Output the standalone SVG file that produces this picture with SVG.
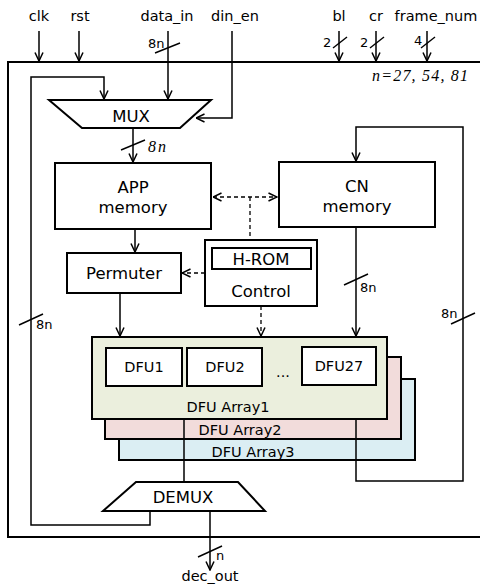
<svg xmlns="http://www.w3.org/2000/svg" width="480" height="585" viewBox="0 0 480 585">
<style>
text{font-family:"DejaVu Sans","Noto Sans",sans-serif;fill:#000}
.lbl{font-size:14.5px}
.blk{font-size:16.5px;text-anchor:middle}
.dfu{font-size:14.5px;text-anchor:middle}
.sm{font-size:13px}
.it{font-family:"Liberation Serif",serif;font-style:italic;font-size:16px}
.box{fill:#fff;stroke:#000;stroke-width:2}
.ln{fill:none;stroke:#000;stroke-width:1.5}
.dash{fill:none;stroke:#000;stroke-width:1.3;stroke-dasharray:4,3}
.sl{stroke:#000;stroke-width:1.4}
</style>
<defs>
<marker id="arr" viewBox="0 0 10 10" refX="9.5" refY="5" markerWidth="10" markerHeight="10" markerUnits="userSpaceOnUse" orient="auto-start-reverse">
<path d="M1,1 L9.5,5 L1,9" fill="none" stroke="#000" stroke-width="1.5"/>
</marker>
</defs>

<g id="outer">
<path d="M480,62 H8 V537 H480" fill="none" stroke="#000" stroke-width="2"/>
<text x="372" y="81" class="it" font-size="17" textLength="96" lengthAdjust="spacing">n=27, 54, 81</text>
</g>

<g id="inputs">
<text x="39" y="21" class="lbl" text-anchor="middle">clk</text>
<text x="80" y="21" class="lbl" text-anchor="middle">rst</text>
<text x="167" y="21" class="lbl" text-anchor="middle">data_in</text>
<text x="235" y="21" class="lbl" text-anchor="middle">din_en</text>
<text x="339" y="21" class="lbl" text-anchor="middle">bl</text>
<text x="376" y="21" class="lbl" text-anchor="middle">cr</text>
<text x="436" y="21" class="lbl" text-anchor="middle">frame_num</text>
</g>

<g id="connectors">
<line x1="39" y1="31" x2="39" y2="61" class="ln" marker-end="url(#arr)"/>
<line x1="79" y1="31" x2="79" y2="61" class="ln" marker-end="url(#arr)"/>
<line x1="168" y1="31" x2="168" y2="99" class="ln" marker-end="url(#arr)"/>
<line x1="155" y1="53" x2="180" y2="43" class="sl"/>
<text x="148" y="48" class="sm">8n</text>
<path d="M232,31 V118 H196" class="ln" marker-end="url(#arr)"/>
<line x1="339" y1="31" x2="339" y2="61" class="ln" marker-end="url(#arr)"/>
<line x1="333" y1="48" x2="347" y2="37" class="sl"/>
<text x="323" y="47" class="sm">2</text>
<line x1="376" y1="31" x2="376" y2="61" class="ln" marker-end="url(#arr)"/>
<line x1="370" y1="48" x2="384" y2="37" class="sl"/>
<text x="360" y="47" class="sm">2</text>
<line x1="427" y1="31" x2="427" y2="61" class="ln" marker-end="url(#arr)"/>
<line x1="421" y1="48" x2="435" y2="37" class="sl"/>
<text x="414" y="45" class="sm">4</text>

<path d="M150,511 V525 H31 V77 H104 V99" class="ln" marker-end="url(#arr)"/>
<line x1="19" y1="325" x2="43" y2="314" class="sl"/>
<text x="36" y="329" class="sm">8n</text>

<line x1="133" y1="128" x2="133" y2="162" class="ln" marker-end="url(#arr)"/>
<line x1="121" y1="150" x2="145" y2="140" class="sl"/>
<text x="148" y="152" class="it">8<tspan dx="2">n</tspan></text>

<line x1="135" y1="229" x2="135" y2="252" class="ln" marker-end="url(#arr)"/>
<line x1="120" y1="293" x2="120" y2="336" class="ln" marker-end="url(#arr)"/>

<line x1="213" y1="197" x2="277" y2="197" class="dash" marker-start="url(#arr)" marker-end="url(#arr)"/>
<line x1="250" y1="197" x2="250" y2="240" class="dash"/>
<line x1="205" y1="273" x2="182" y2="273" class="dash" marker-end="url(#arr)"/>
<line x1="261" y1="306" x2="261" y2="336" class="dash" marker-end="url(#arr)"/>

<line x1="356" y1="227" x2="356" y2="336" class="ln" marker-end="url(#arr)"/>
<line x1="344" y1="285" x2="368" y2="274" class="sl"/>
<text x="360" y="292" class="sm">8n</text>

<line x1="210" y1="511" x2="210" y2="570" class="ln" marker-end="url(#arr)"/>
<line x1="198" y1="557" x2="222" y2="546" class="sl"/>
<text x="216" y="560" class="sm">n</text>
<text x="210" y="581" class="lbl" text-anchor="middle">dec_out</text>
</g>

<g id="mux">
<path d="M49,100 H211 L180,128 H82 Z" class="box"/>
<text x="131" y="122" class="blk" font-size="17">MUX</text>
</g>

<g id="app-memory">
<rect x="55" y="163" width="156" height="66" class="box"/>
<text x="133" y="193" class="blk">APP</text>
<text x="133" y="213" class="blk">memory</text>
</g>

<g id="cn-memory">
<rect x="279" y="162" width="156" height="65" class="box"/>
<text x="357" y="192" class="blk">CN</text>
<text x="357" y="212" class="blk">memory</text>
</g>

<g id="permuter">
<rect x="67" y="253" width="114" height="40" class="box"/>
<text x="124" y="279" class="blk">Permuter</text>
</g>

<g id="control">
<rect x="205" y="240" width="112" height="66" class="box"/>
<rect x="212" y="248" width="99" height="21" class="box"/>
<text x="261" y="265" class="blk">H-ROM</text>
<text x="261" y="297" class="blk">Control</text>
</g>

<g id="dfu-array3">
<rect x="119" y="379" width="296" height="81" fill="#dbeef3" stroke="#000" stroke-width="2"/>
<text x="253" y="457" class="dfu">DFU Array3</text>
</g>
<g id="dfu-array2">
<rect x="105" y="357" width="296" height="82" fill="#f2dcdb" stroke="#000" stroke-width="2"/>
<text x="240" y="435" class="dfu">DFU Array2</text>
</g>
<g id="loops">
<path d="M356,419 V481 H463 V127 H356 V161" class="ln" marker-end="url(#arr)"/>
<line x1="184" y1="419" x2="184" y2="482" class="ln"/>
</g>
<g id="dfu-array1">
<rect x="92" y="337" width="295" height="82" fill="#ebefdd" stroke="#000" stroke-width="2"/>
<text x="228" y="412" class="dfu">DFU Array1</text>
<rect x="106" y="348" width="76" height="38" class="box" stroke-width="1.6"/>
<text x="144" y="372" class="dfu">DFU1</text>
<rect x="187" y="348" width="75" height="38" class="box" stroke-width="1.6"/>
<text x="225" y="372" class="dfu">DFU2</text>
<text x="283" y="377" class="dfu">...</text>
<rect x="302" y="347" width="74" height="38" class="box" stroke-width="1.6"/>
<text x="339" y="371" class="dfu">DFU27</text>
</g>
<line x1="451" y1="324" x2="475" y2="313" class="sl"/>
<text x="441" y="318" class="sm">8n</text>

<g id="demux">
<path d="M136,482 H238 L265,511 H103 Z" class="box"/>
<text x="183" y="503" class="blk" font-size="17">DEMUX</text>
</g>
</svg>
